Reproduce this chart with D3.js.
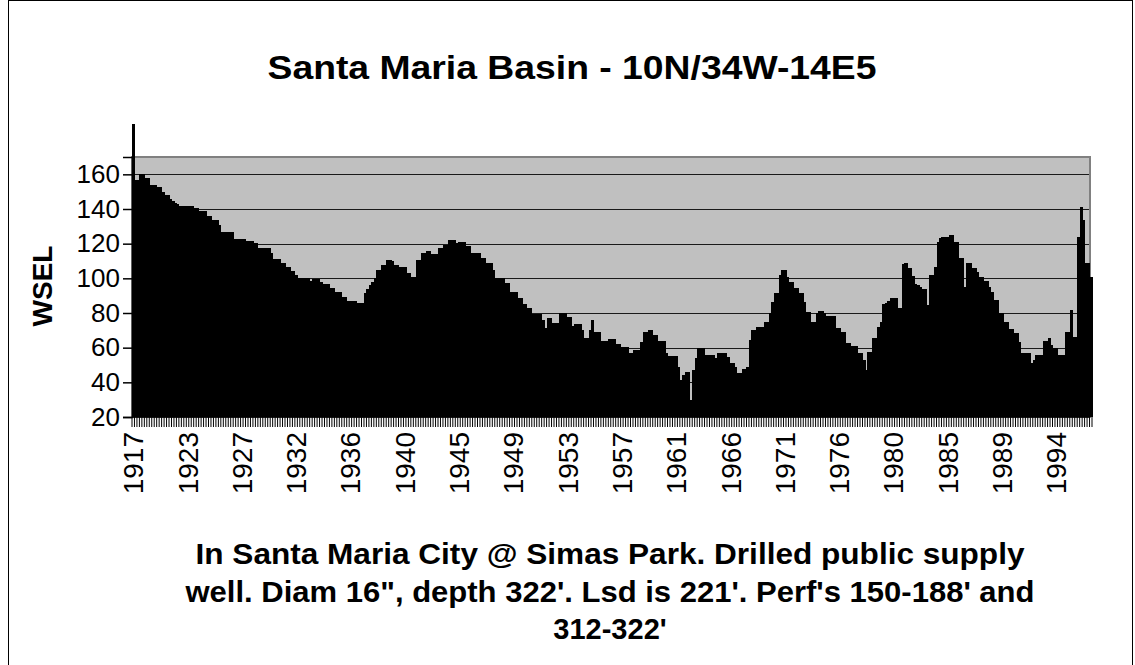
<!DOCTYPE html>
<html>
<head>
<meta charset="utf-8">
<script src="https://cdn.jsdelivr.net/npm/d3@7"></script>
<style>
  body { margin: 0; background: #fff; }
  svg { display: block; }
  text { font-family: "Liberation Sans", Arial, Helvetica, sans-serif; fill: #000; }
</style>
</head>
<body>
<svg id="chart" width="1135" height="665"></svg>
<script>
// Water surface elevation readings, one per measurement date (oldest first)
const wsel = [
  189,157,157,160,160,158,158,154,154,154,
  152.5,152.5,150,148,148,146,144.6,143.2,143,142,
  142,142,142,142,142,140.3,140.3,139,139,139,
  136,136,133.6,133.6,133.6,130.7,126.5,126.5,126.5,126.5,
  126.5,122.7,122.7,122.7,122.7,122.7,121.3,121.3,121.3,120.2,
  120.2,117.6,117.6,117.6,117.6,117.6,114.8,111,111,111,
  109,109,106.7,106.7,104.4,104.4,102,100,100,100,
  100,100,98.6,99.6,99.6,99.6,98,96.5,96.5,96.5,
  94.2,94.2,92.3,92.3,92.3,89,89,87.1,87.1,87.1,
  87.1,85.6,85.6,85.6,91.3,93.6,96,98,100,104.8,
  104.8,107.7,107.7,110.5,110.5,110,107.7,107.7,106.3,106.3,
  106.3,102.9,102.9,100.6,100.6,110.5,110.5,114.4,114.4,115.7,
  115.7,114,114,114,117.3,117.3,119.2,119.2,122,122,
  122,120.2,121.1,121.1,121.1,118.6,118.6,114.4,114.4,114.4,
  114.4,111.5,111.5,109,109,109,104.8,100.3,100.3,100.3,
  100.3,97.5,97.5,92.3,92.3,92.3,88.5,88.5,85,85,
  82.7,82.7,79.4,79.4,79.4,79.4,75.9,71.2,77.3,77.3,
  74,74,74,80.1,80.1,80.1,77.8,77.8,72.5,73.4,
  73.4,73.4,70.2,65.7,65.7,70.2,75.9,69.2,69.2,69.2,
  64,64,64,65,65,65,62.1,62.1,60.5,60.5,
  60.5,56.7,56.7,58.6,58.6,58.6,63.4,69.2,69.2,70.2,
  70.2,67.3,67.3,63.6,63.6,63.6,56.7,55.2,55.2,55.2,
  55.2,49,41.3,44.2,46.1,46.1,30,47.1,53.9,59.6,
  59.6,59.6,55.8,55.8,55.8,55.8,53.9,57.1,57.1,57.1,
  57.1,54.8,51.3,51.3,49,45.2,45.2,47.5,47.5,49,
  64.4,70.2,70.2,72.1,72.1,72.1,75,75,79.8,86.5,
  91.3,91.3,101.9,104.8,104.8,100.9,98,98,94.2,94.2,
  91.3,91.3,86.5,80.7,80.7,75,75,80.1,81.3,81.3,
  79.8,78.4,78.4,78.4,78.4,71.5,71.5,69.2,69.2,62.5,
  62.5,60.9,60.9,60.9,57.1,57.1,52.9,47,57.7,57.7,
  65.4,65.4,72.1,75,85,86,87,88.5,88.5,88.5,
  82.7,83,108.2,109,105.8,105.8,101.5,96.5,96,95,
  93.8,93.8,84.6,101.9,101.9,106.3,121.1,123,124,124,
  124,125,125,121.1,121.1,111.5,111.5,95,108.6,108.6,
  105.8,105.8,103.8,100.6,100.6,98.4,98.4,95.1,92.3,87.5,
  87.5,79.8,79.8,75,75,70.6,70.6,68.3,68.3,63.4,
  57.1,57.1,57.1,57.1,51,52.9,55.8,55.8,55.8,64,
  64,65.4,61.5,60,59.6,55.8,55.8,55.8,69.2,69.2,
  81.7,66.3,66.3,124,141.3,133.6,108.6,108.6,100.9
];

// Year shown under every 22nd measurement
const yearLabels = ["1917","1923","1927","1932","1936","1940","1945","1949","1953",
                    "1957","1961","1966","1971","1976","1980","1985","1989","1994"];
const labelEvery = 22;

const yTicks = [20, 40, 60, 80, 100, 120, 140, 160];
const yDomain = [20, 170];

const titleText = "Santa Maria Basin - 10N/34W-14E5";
const yAxisTitle = "WSEL";
const captionLines = [
  "In Santa Maria City @ Simas Park. Drilled public supply",
  "well. Diam 16\", depth 322'. Lsd is 221'. Perf's 150-188' and",
  "312-322'"
];
// rendered line widths of the caption (null = natural width)
const captionWidths = [829, 849, null];

const svg = d3.select("#chart");
const plot = { left: 132, right: 1090, top: 157, bottom: 417 };

const idx = d3.range(wsel.length);
const x = d3.scaleBand().domain(idx).range([plot.left, plot.right + 2]).paddingInner(0).paddingOuter(0);
const y = d3.scaleLinear().domain(yDomain).range([plot.bottom, plot.top]);

// outer chart frame
svg.append("rect")
  .attr("x", 8.5).attr("y", 0.5).attr("width", 1124).attr("height", 700)
  .attr("fill", "#fff").attr("stroke", "#000").attr("stroke-width", 1);

// plot area background
svg.append("rect")
  .attr("x", plot.left).attr("y", plot.top)
  .attr("width", plot.right - plot.left).attr("height", plot.bottom - plot.top)
  .attr("fill", "#c0c0c0");

// horizontal gridlines
svg.append("g").selectAll("line")
  .data(yTicks.filter(t => t > yDomain[0]))
  .join("line")
  .attr("x1", plot.left).attr("x2", plot.right)
  .attr("y1", d => Math.round(y(d)) + 0.5).attr("y2", d => Math.round(y(d)) + 0.5)
  .attr("stroke", "#1a1a1a").attr("stroke-width", 1);

// plot border (top and right edges show)
svg.append("rect")
  .attr("x", plot.left).attr("y", plot.top)
  .attr("width", plot.right - plot.left).attr("height", plot.bottom - plot.top)
  .attr("fill", "none").attr("stroke", "#808080").attr("stroke-width", 2);

// bars
svg.append("g").selectAll("rect")
  .data(wsel)
  .join("rect")
  .attr("x", (d, i) => x(i))
  .attr("width", x.bandwidth() + 0.6)
  .attr("y", d => y(d))
  .attr("height", d => y(yDomain[0]) - y(d))
  .attr("fill", "#000")
  .attr("shape-rendering", "crispEdges");

// y axis
const yAxis = d3.axisLeft(y).tickValues(yTicks).tickSize(9).tickPadding(3).tickFormat(d3.format("d"));
const gy = svg.append("g").attr("transform", `translate(${plot.left},0)`).call(yAxis);
gy.select(".domain").attr("stroke", "#000").attr("stroke-width", 1.5);
gy.selectAll(".tick line").attr("stroke", "#000").attr("stroke-width", 1.5);
gy.selectAll(".tick text").attr("font-size", 26).attr("font-family", "Liberation Sans, Arial, sans-serif");

// x axis: a tick at every category boundary, year text every labelEvery categories
const step = x.step();
svg.append("g").selectAll("line")
  .data(d3.range(wsel.length + 1))
  .join("line")
  .attr("x1", i => plot.left + i * step).attr("x2", i => plot.left + i * step)
  .attr("y1", plot.bottom).attr("y2", plot.bottom + 10)
  .attr("stroke", "#000").attr("stroke-width", 1);
svg.append("line")
  .attr("x1", plot.left).attr("x2", plot.right)
  .attr("y1", plot.bottom).attr("y2", plot.bottom)
  .attr("stroke", "#000").attr("stroke-width", 1.5);

svg.append("g").selectAll("text")
  .data(yearLabels)
  .join("text")
  .attr("transform", (d, k) => `translate(${x(k * labelEvery) + x.bandwidth() / 2},432) rotate(-90)`)
  .attr("text-anchor", "end")
  .attr("dy", "0.36em")
  .attr("font-size", 28)
  .text(d => d);

// title
svg.append("text")
  .attr("x", 572).attr("y", 79)
  .attr("text-anchor", "middle")
  .attr("font-size", 34).attr("font-weight", "bold")
  .attr("textLength", 609).attr("lengthAdjust", "spacingAndGlyphs")
  .text(titleText);

// y axis title
svg.append("text")
  .attr("transform", "translate(42,286) rotate(-90)")
  .attr("text-anchor", "middle").attr("dy", "0.36em")
  .attr("font-size", 28).attr("font-weight", "bold")
  .text(yAxisTitle);

// caption under the axis
svg.append("g").selectAll("text")
  .data(captionLines)
  .join("text")
  .attr("x", 610).attr("y", (d, k) => 564 + k * 37.5)
  .attr("text-anchor", "middle")
  .attr("font-size", 29).attr("font-weight", "bold")
  .each(function (d, k) {
    if (captionWidths[k]) {
      d3.select(this).attr("textLength", captionWidths[k]).attr("lengthAdjust", "spacingAndGlyphs");
    }
  })
  .text(d => d);
</script>
</body>
</html>
